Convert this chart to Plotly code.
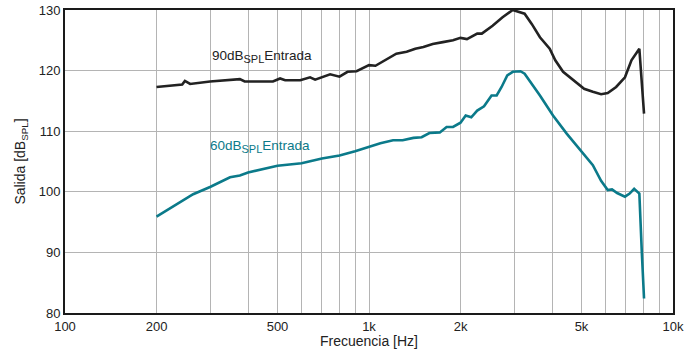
import plotly.graph_objects as go

# 90 dB SPL input curve
freq_90 = [200, 230, 243, 248, 258, 300, 349, 376, 390, 450, 483, 510, 530, 594, 640, 665, 705, 745,
           800, 850, 910, 1000, 1050, 1130, 1230, 1330, 1420, 1510, 1620, 1750, 1890, 2000, 2100,
           2270, 2350, 2550, 2750, 2970, 3250, 3430, 3650, 3930, 4100, 4350, 4700, 5100, 5450, 5800,
           6100, 6500, 6950, 7300, 7750, 8030]
out_90 = [117.3, 117.5, 117.7, 118.3, 117.8, 118.2, 118.4, 118.6, 118.2, 118.2, 118.2, 118.7, 118.4,
          118.4, 118.9, 118.5, 118.9, 119.4, 119.0, 119.8, 119.9, 120.9, 120.8, 121.7, 122.8, 123.1,
          123.6, 123.9, 124.4, 124.7, 125.0, 125.4, 125.2, 126.1, 126.1, 127.4, 128.8, 130.0, 129.4,
          127.7, 125.5, 123.6, 121.7, 119.8, 118.4, 117.0, 116.5, 116.1, 116.3, 117.3, 118.9, 121.7,
          123.6, 112.9]

# 60 dB SPL input curve
freq_60 = [200, 227, 245, 252, 264, 300, 349, 376, 400, 500, 600, 700, 800, 900, 1000, 1090, 1200,
           1290, 1400, 1490, 1580, 1710, 1800, 1890, 2000, 2080, 2170, 2270, 2390, 2530, 2630, 2730,
           2850, 2970, 3150, 3250, 3650, 4030, 4470, 4900, 5450, 5800, 6100, 6300, 6550, 6950, 7200,
           7450, 7750, 7900, 8030]
out_60 = [95.9, 97.6, 98.6, 98.9, 99.6, 100.8, 102.4, 102.7, 103.2, 104.3, 104.7, 105.5, 106.0, 106.7,
          107.4, 108.0, 108.5, 108.5, 108.9, 109.0, 109.7, 109.8, 110.7, 110.7, 111.4, 112.6, 112.3,
          113.4, 114.1, 115.9, 115.9, 117.3, 119.2, 119.8, 119.9, 119.5, 115.9, 112.6, 109.6, 107.1,
          104.4, 101.8, 100.3, 100.4, 99.8, 99.2, 99.7, 100.5, 99.7, 89.8, 82.4]

grid_vals = [100, 200, 300, 400, 500, 600, 700, 800, 900, 1000, 2000, 3000, 4000, 5000, 6000,
             7000, 8000, 9000, 10000]
label_map = {100: "100", 200: "200", 500: "500", 1000: "1k", 2000: "2k", 5000: "5k", 10000: "10k"}
x_ticktext = [label_map.get(v, "") for v in grid_vals]
y_ticks = [80, 90, 100, 110, 120, 130]

BLACK = "#222222"
TEAL = "#0b7a8a"
FONT = "Liberation Sans, Arial, sans-serif"
SUB = "<sub><span style='font-size:11px'>SPL</span></sub>"

fig = go.Figure()
fig.add_trace(go.Scatter(x=freq_90, y=out_90, mode="lines",
                         line=dict(color=BLACK, width=2.6), showlegend=False))
fig.add_trace(go.Scatter(x=freq_60, y=out_60, mode="lines",
                         line=dict(color=TEAL, width=2.6), showlegend=False))

fig.add_annotation(text="90dB" + SUB + "Entrada", xref="paper", yref="paper",
                   x=0.2385, y=0.845, xanchor="left", yanchor="middle", showarrow=False,
                   font=dict(size=13.5, color=BLACK, family=FONT))
fig.add_annotation(text="60dB" + SUB + "Entrada", xref="paper", yref="paper",
                   x=0.235, y=0.55, xanchor="left", yanchor="middle", showarrow=False,
                   font=dict(size=13.5, color=TEAL, family=FONT))

fig.update_layout(
    width=698, height=349,
    margin=dict(l=65, r=25, t=10, b=36),
    paper_bgcolor="white", plot_bgcolor="white",
    font=dict(family=FONT, size=13, color=BLACK),
    xaxis=dict(type="log", range=[2, 4], tickvals=grid_vals, ticktext=x_ticktext,
               showgrid=True, gridcolor="#b4b4b4", gridwidth=1,
               showline=True, linecolor="#1a1a1a", linewidth=2, mirror=True,
               ticks="inside", ticklen=5, tickcolor="#b4b4b4", automargin=False,
               title=dict(text="Frecuencia [Hz]", font=dict(size=14), standoff=0),
               tickfont=dict(size=13), zeroline=False, ticklabeloverflow="allow"),
    yaxis=dict(range=[80, 130], tickvals=y_ticks,
               showgrid=True, gridcolor="#b4b4b4", gridwidth=1,
               showline=True, linecolor="#1a1a1a", linewidth=2, mirror=True,
               ticks="inside", ticklen=5, tickcolor="#b4b4b4", automargin=False,
               title=dict(text="Salida [dB<sub>SPL</sub>]", font=dict(size=14), standoff=10),
               tickfont=dict(size=13), zeroline=False, ticklabeloverflow="allow"),
)

fig.write_html("out.html", config={"displayModeBar": False},
               post_script="document.body.style.margin='0';")
